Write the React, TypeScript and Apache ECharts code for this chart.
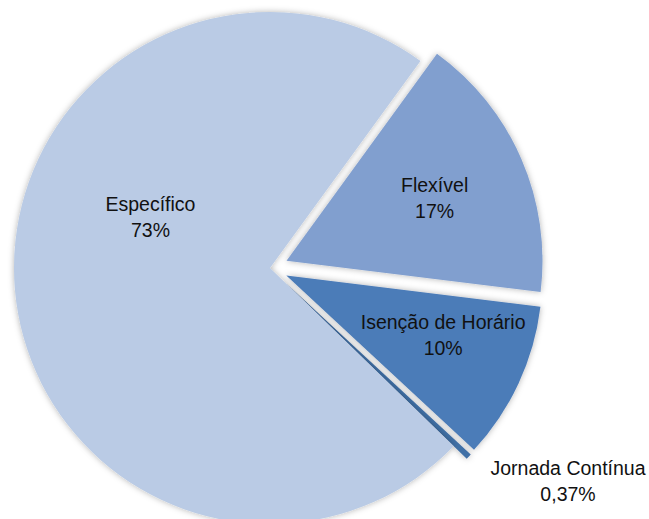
import React, { useEffect, useRef } from "react";
import * as echarts from "echarts";

const categories = ["Flexível", "Isenção de Horário", "Jornada Contínua", "Específico"];
const values = [17, 10, 0.37, 73];
const pctLabels = ["17%", "10%", "0,37%", "73%"];
const colors = ["#819FCF", "#4B7BB8", "#416FA6", "#BACBE5"];
const exploded = [true, true, true, false];
// label nudges (pixels) relative to library-computed positions
const labelNudge = [
  [28, -11],
  [38, 4],
  [0, 4],
  [11, -62],
];

export default function App() {
  const ref = useRef<HTMLDivElement>(null);
  useEffect(() => {
    const chart = echarts.init(ref.current!, null, { renderer: "svg" });
    chart.setOption({
      animation: false,
      backgroundColor: "#ffffff",
      series: [
        {
          type: "pie",
          center: [270, 268],
          radius: 256,
          startAngle: 54,
          clockwise: true,
          selectedMode: "multiple",
          selectedOffset: 18,
          avoidLabelOverlap: false,
          label: {
            show: true,
            position: "inside",
            color: "#111",
            fontFamily: "Liberation Sans, Arial, sans-serif",
            fontSize: 19.5,
            lineHeight: 26,
            align: "center",
            formatter: (p: any) => `${p.name}\n${pctLabels[p.dataIndex]}`,
          },
          labelLine: { show: false },
          emphasis: { disabled: true },
          itemStyle: {
            shadowBlur: 6,
            shadowColor: "rgba(0,0,0,0.3)",
          },
          labelLayout: (p: any) => {
            const n = labelNudge[p.dataIndex];
            if (p.dataIndex === 2) {
              return { align: "center", dx: p.labelRect.width / 2 + n[0], dy: n[1] };
            }
            return { dx: n[0], dy: n[1] };
          },
          data: categories.map((c, i) => ({
            name: c,
            value: values[i],
            selected: exploded[i],
            itemStyle: { color: colors[i] },
            label: i === 2 ? { position: "outside", distanceToLabelLine: 0 } : undefined,
            labelLine: i === 2 ? { show: false, length: 30, length2: 0 } : undefined,
          })),
        },
      ],
    });
    return () => chart.dispose();
  }, []);
  return (
    <div
      ref={ref}
      style={{ position: "fixed", left: 0, top: 0, width: 649, height: 519 }}
    />
  );
}
